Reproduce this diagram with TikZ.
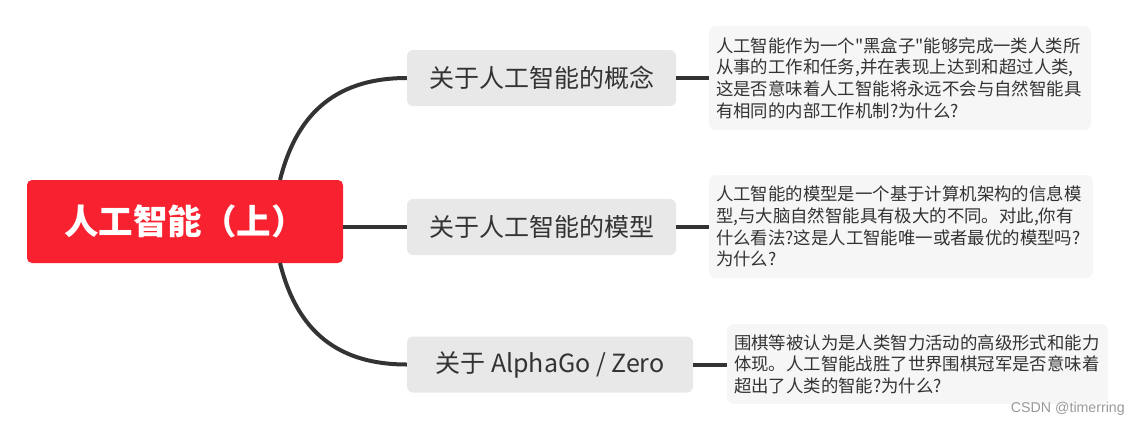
\documentclass[tikz,border=0pt]{standalone}
\usepackage{fontspec}
\setmainfont{Noto Sans CJK SC}[Ligatures=TeXOff]
\newfontfamily\wmfont{Liberation Sans}
\definecolor{rootred}{HTML}{F8212F}
\definecolor{topicgray}{HTML}{E8E8E8}
\definecolor{subgray}{HTML}{F6F6F6}
\definecolor{linegray}{HTML}{333333}
\definecolor{textgray}{HTML}{333333}
\tikzset{
  rootbox/.style={fill=rootred, rounded corners=5pt, text=white, font=\fontsize{34.5}{40}\selectfont\bfseries, minimum width=316pt, minimum height=83pt, inner sep=0pt},
  topicbox/.style={fill=topicgray, rounded corners=6pt, text=textgray, font=\fontsize{25}{28}\selectfont, minimum height=56pt, inner sep=0pt},
  subbox/.style={fill=subgray, rounded corners=7pt, text=textgray, font=\fontsize{17.4}{21.6}\selectfont, align=left, inner xsep=7pt, inner ysep=0pt},
  conn/.style={draw=linegray, line width=4pt},
}
\begin{document}
\begin{tikzpicture}[x=1pt,y=-1pt]
\useasboundingbox (0,0) rectangle (1140,426);
% nodes
\node[rootbox] (root) at (185,221.5) {人工智能（上）};
\node[topicbox, minimum width=269pt] (t1) at (541.5,78) {关于人工智能的概念};
\node[topicbox, minimum width=269pt] (t2) at (541.5,227) {关于人工智能的模型};
\node[topicbox, minimum width=286pt] (t3) at (550,364.5) {关于 AlphaGo / Zero};
\node[subbox, text width=368pt, minimum height=104pt] (s1) at (900,78) {人工智能作为一个"黑盒子"能够完成一类人类所\\从事的工作和任务,并在表现上达到和超过人类,\\这是否意味着人工智能将永远不会与自然智能具\\有相同的内部工作机制?为什么?};
\node[subbox, text width=370pt, minimum height=103pt] (s2) at (901,226.5) {人工智能的模型是一个基于计算机架构的信息模\\型,与大脑自然智能具有极大的不同。对此,你有\\什么看法?这是人工智能唯一或者最优的模型吗?\\为什么?};
\node[subbox, text width=367pt, minimum height=80pt] (s3) at (917.5,364) {围棋等被认为是人类智力活动的高级形式和能力\\体现。人工智能战胜了世界围棋冠军是否意味着\\超出了人类的智能?为什么?};
\node[font=\wmfont\fontsize{14.2}{16}\selectfont, text=black!40, anchor=east, inner sep=0pt] (wm) at (1125,409) {CSDN @timerring};
% connectors
\coordinate (r1) at (280,180);
\coordinate (r3) at (280,263);
\draw[conn] (r1) .. controls (295,120) and (330,78) .. (t1.west);
\draw[conn] (r3) .. controls (295,323) and (330,364.5) .. (t3.west);
\draw[conn] (root.east |- t2.west) -- (t2.west);
\draw[conn] (t1.east) -- (s1.west);
\draw[conn] (t2.east) -- (s2.west |- t2.east);
\draw[conn] (t3.east) -- (s3.west |- t3.east);
\end{tikzpicture}
\end{document}
